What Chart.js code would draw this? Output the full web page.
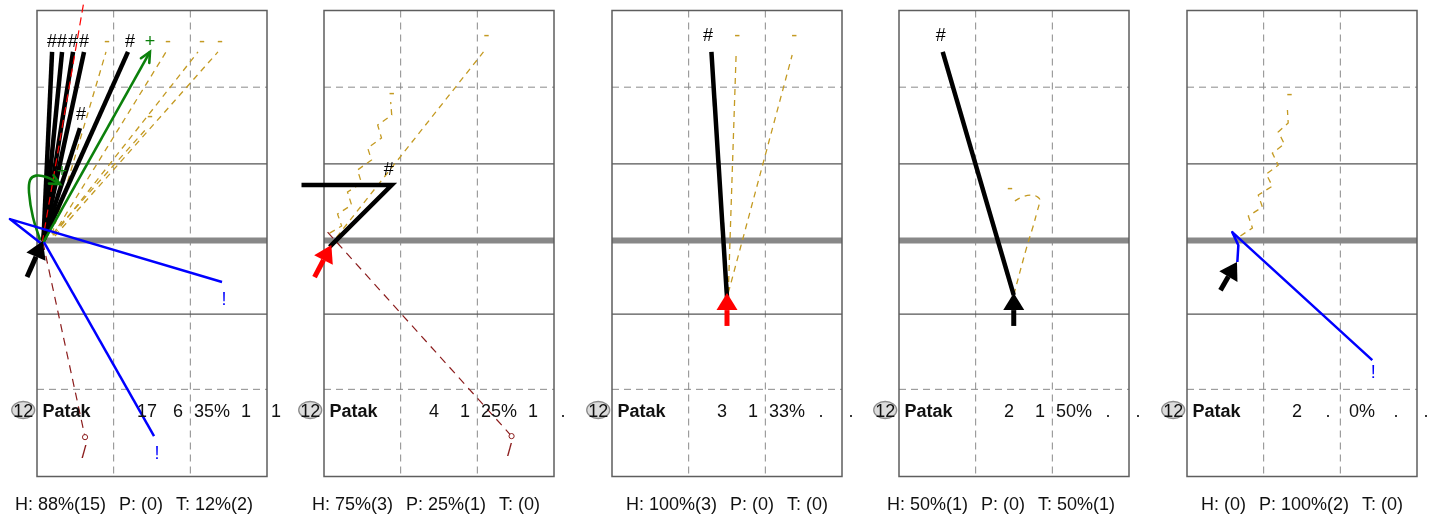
<!DOCTYPE html>
<html>
<head>
<meta charset="utf-8">
<title>Patak – attack chart</title>
<script src="https://cdn.jsdelivr.net/npm/chart.js@4.4.1/dist/chart.umd.min.js"></script>
<style>
  html, body { margin: 0; padding: 0; background: #fff; }
  #board { position: relative; width: 1447px; height: 517px; overflow: hidden; }
  .panel { position: absolute; top: 0; width: 288px; height: 517px; }
</style>
</head>
<body>
<div id="board"></div>
<script>
// Court in metres: 9 m wide, far side above the net (y > 0), near side below
const xMin = 0, xMax = 9, yMin = -9.23, yMax = 9;
const dashedX = [3, 6];
const dashedY = [6, -5.82];
const solidY = [3, -2.88];
const netY = 0;

// left edge of each court on the page
const panelLeft = [37, 324.4, 611.8, 899.2, 1186.7];

// player row + footer
const jersey = '12';
const player = 'Patak';
const rowValues = [
  ['17', '6', '35%', '1', '1'],
  ['4', '1', '25%', '1', '.'],
  ['3', '1', '33%', '.', '.'],
  ['2', '1', '50%', '.', '.'],
  ['2', '.', '0%', '.', '.']
];
const footers = [
  ['H: 88%(15)', 'P: (0)', 'T: 12%(2)'],
  ['H: 75%(3)', 'P: 25%(1)', 'T: (0)'],
  ['H: 100%(3)', 'P: (0)', 'T: (0)'],
  ['H: 50%(1)', 'P: (0)', 'T: 50%(1)'],
  ['H: (0)', 'P: 100%(2)', 'T: (0)']
];

// attacks: c = evaluation code, pts = path [x, y], lab = where the code is printed
const shots1 = [
  {c: '-', pts: [[0.59, 0.25], [2.70, 7.38]], lab: [2.74, 7.78]},
  {c: '-', pts: [[0.62, 0.20], [5.05, 7.38]], lab: [5.13, 7.78]},
  {c: '-', pts: [[0.66, 0.22], [6.30, 7.38]], lab: [6.46, 7.78]},
  {c: '-', pts: [[0.70, 0.18], [7.08, 7.38]], lab: [7.16, 7.78]},
  {c: '-', pts: [[0.62, 0.28], [4.30, 4.40]], lab: [4.42, 4.85]},
  {c: '/', pts: [[0.23, -0.06], [1.88, -7.69]], lab: [1.84, -8.31]},
  {c: '#', pts: [[0.25, 0.00], [0.59, 7.38]], lab: [0.59, 7.78]},
  {c: '#', pts: [[0.25, 0.00], [0.98, 7.38]], lab: [0.98, 7.78]},
  {c: '#', pts: [[0.25, 0.00], [1.41, 7.38]], lab: [1.41, 7.78]},
  {c: '#', pts: [[0.25, 0.00], [1.84, 7.38]], lab: [1.84, 7.78]},
  {c: '#', pts: [[0.25, 0.00], [3.56, 7.38]], lab: [3.64, 7.78]},
  {c: '#', pts: [[0.25, 0.00], [1.68, 4.40]], lab: [1.72, 4.91]},
  {c: 'x', pts: [[0.20, -0.10], [1.88, 9.61]], lab: null},
  {c: '+', pts: [[0.23, -0.10], [4.42, 7.38]], lab: [4.42, 7.78]},
  {c: '+', pts: [[0.12, 0.02], [-0.16, 0.92], [-0.31, 1.86], [-0.27, 2.37], [-0.04, 2.54], [0.39, 2.48], [0.90, 2.21]], lab: [0.98, 2.68], smooth: true},
  {c: '!', pts: [[0.20, -0.14], [-1.06, 0.84], [7.24, -1.62]], lab: [7.32, -2.33]},
  {c: '!', pts: [[0.27, -0.06], [4.58, -7.65]], lab: [4.70, -8.35]}
];
const shots2 = [
  {c: '-', pts: [[0.22, -0.21], [6.24, 7.38]], lab: [6.36, 8.0]},
  {c: '-', pts: [[0.22, 0.29], [0.69, 0.57], [0.53, 1.04], [1.08, 1.39], [0.92, 1.90], [1.47, 2.25], [1.31, 2.76],
                 [1.86, 3.15], [1.71, 3.62], [2.25, 4.01], [2.10, 4.52], [2.65, 4.91], [2.61, 5.42]], lab: [2.65, 5.73]},
  {c: '/', pts: [[0.14, 0.33], [7.34, -7.65]], lab: [7.26, -8.24]},
  {c: '#', pts: [[0.22, -0.25], [2.65, 2.17], [-0.88, 2.17]], lab: [2.53, 2.76]}
];
const shots3 = [
  {c: '-', pts: [[4.55, -2.05], [4.86, 7.38]], lab: [4.90, 8.0]},
  {c: '-', pts: [[4.55, -2.05], [7.05, 7.26]], lab: [7.13, 8.0]},
  {c: '#', pts: [[4.50, -2.21], [3.89, 7.38]], lab: [3.76, 8.0]}
];
const shots4 = [
  {c: '-', pts: [[4.49, -2.13], [5.00, -0.25], [5.24, 0.53], [5.39, 1.08], [5.51, 1.59], [5.43, 1.70],
                 [5.20, 1.78], [4.81, 1.70], [4.41, 1.47]], lab: [4.34, 2.02], smooth: true},
  {c: '#', pts: [[4.49, -2.13], [1.71, 7.38]], lab: [1.63, 8.0]}
];
const shots5 = [
  {c: '-', pts: [[2.09, 0.18], [2.56, 0.49], [2.40, 0.96], [2.95, 1.31], [2.79, 1.78], [3.34, 2.13], [3.10, 2.60],
                 [3.57, 2.95], [3.34, 3.42], [3.81, 3.78], [3.57, 4.25], [3.96, 4.60], [3.93, 5.11]], lab: [4.01, 5.69]},
  {c: '!', pts: [[1.97, -0.84], [2.01, -0.18], [1.77, 0.33], [7.25, -4.68]], lab: [7.29, -5.19]}
];
const shots = [shots1, shots2, shots3, shots4, shots5];

// set arrow: tail and the point where the head starts
const arrowTail = [[-0.39, -1.43], [-0.37, -1.43], [4.50, -3.34], [4.49, -3.34], [1.31, -1.94]];
const arrowBase = [[-0.04, -0.63], [-0.02, -0.76], [4.50, -2.72], [4.49, -2.72], [1.62, -1.41]];
const arrowKind = ['b', 'r', 'r', 'b', 'b'];

// looks
const FONT = '"Liberation Sans", Arial, Helvetica, sans-serif';
const shotStyle = {
  '#': {color: '#000000', width: 4.5},
  '-': {color: '#c49a22', width: 1.3, dash: [6, 5]},
  '+': {color: '#0b800b', width: 2.6, head: true},
  '!': {color: '#0000ff', width: 2.5},
  '/': {color: '#8b1c1c', width: 1.2, dash: [8, 6], dot: true},
  'x': {color: '#ff0000', width: 1.2, dash: [8, 5]}
};
const drawRank = ['-', '/', '#', 'x', '+', '!'];
const arrowColor = {b: '#000000', r: '#ff0000'};
const rowCols = [110, 141, 175, 209, 239];   // column centres, px from court left

Chart.defaults.font.family = FONT;

const court = {
  id: 'court',
  beforeDatasetsDraw(chart) {
    const {ctx, chartArea: a, scales: {x, y}} = chart;
    ctx.save();
    ctx.lineWidth = 1;
    ctx.strokeStyle = '#8a8a8a';
    ctx.setLineDash([7, 5]);
    dashedX.forEach(v => {
      const px = x.getPixelForValue(v);
      ctx.beginPath(); ctx.moveTo(px, a.top); ctx.lineTo(px, a.bottom); ctx.stroke();
    });
    dashedY.forEach(v => {
      const py = y.getPixelForValue(v);
      ctx.beginPath(); ctx.moveTo(a.left, py); ctx.lineTo(a.right, py); ctx.stroke();
    });
    ctx.setLineDash([]);
    ctx.strokeStyle = '#555';
    ctx.lineWidth = 1.3;
    solidY.forEach(v => {
      const py = y.getPixelForValue(v);
      ctx.beginPath(); ctx.moveTo(a.left, py); ctx.lineTo(a.right, py); ctx.stroke();
    });
    // net
    const ny = y.getPixelForValue(netY);
    ctx.strokeStyle = '#888';
    ctx.lineWidth = 6;
    ctx.beginPath(); ctx.moveTo(a.left, ny); ctx.lineTo(a.right, ny); ctx.stroke();
    ctx.strokeStyle = '#5e5e5e';
    ctx.lineWidth = 1.5;
    ctx.strokeRect(a.left, a.top, a.width, a.height);
    ctx.restore();
  },
  afterDatasetsDraw(chart, args, opts) {
    const {ctx, chartArea: a, scales: {x, y}} = chart;
    ctx.save();
    chart.data.datasets.forEach((ds, i) => {
      const pts = chart.getDatasetMeta(i).data;
      const n = pts.length;
      if (ds.openHead) {
        const p = pts[n - 1], q = pts[n - 2];
        const ang = Math.atan2(p.y - q.y, p.x - q.x);
        ctx.strokeStyle = ds.borderColor;
        ctx.lineWidth = ds.borderWidth;
        ctx.lineCap = 'round';
        ctx.beginPath();
        ctx.moveTo(p.x - 11 * Math.cos(ang - 0.45), p.y - 11 * Math.sin(ang - 0.45));
        ctx.lineTo(p.x, p.y);
        ctx.lineTo(p.x - 11 * Math.cos(ang + 0.45), p.y - 11 * Math.sin(ang + 0.45));
        ctx.stroke();
      }
      if (ds.solidHead) {
        const t = pts[0], b = pts[1];
        const len = Math.hypot(b.x - t.x, b.y - t.y);
        const ux = (b.x - t.x) / len, uy = (b.y - t.y) / len;
        ctx.fillStyle = ds.borderColor;
        ctx.beginPath();
        ctx.moveTo(b.x + ux * 17, b.y + uy * 17);
        ctx.lineTo(b.x - uy * 10.5, b.y + ux * 10.5);
        ctx.lineTo(b.x + uy * 10.5, b.y - ux * 10.5);
        ctx.closePath();
        ctx.fill();
      }
      if (ds.tag) {
        ctx.fillStyle = ds.borderColor;
        ctx.font = `18px ${FONT}`;
        ctx.textAlign = 'center';
        ctx.textBaseline = 'middle';
        ctx.fillText(ds.tag, x.getPixelForValue(ds.tagAt[0]), y.getPixelForValue(ds.tagAt[1]));
      }
    });

    // player row
    const base = a.top + 406.5;
    ctx.textBaseline = 'alphabetic';
    ctx.beginPath();
    ctx.ellipse(a.left - 13.8, base - 7, 11.5, 8.5, 0, 0, Math.PI * 2);
    ctx.fillStyle = '#dcdcdc';
    ctx.fill();
    ctx.strokeStyle = '#8c8c8c';
    ctx.lineWidth = 1.3;
    ctx.stroke();
    ctx.fillStyle = '#111';
    ctx.textAlign = 'center';
    ctx.font = `18px ${FONT}`;
    ctx.fillText(jersey, a.left - 13.8, base);
    ctx.textAlign = 'left';
    ctx.font = `bold 18px ${FONT}`;
    ctx.fillText(player, a.left + 5.5, base);
    ctx.font = `18px ${FONT}`;
    ctx.textAlign = 'center';
    rowValues[opts.panel].forEach((v, k) => ctx.fillText(v, a.left + rowCols[k], base));

    // footer, right aligned under the court
    const parts = footers[opts.panel];
    const gap = 13;
    const widths = parts.map(s => ctx.measureText(s).width);
    let fx = a.right - 14 - widths.reduce((s, w) => s + w, 0) - gap * (parts.length - 1);
    ctx.textAlign = 'left';
    parts.forEach((s, k) => { ctx.fillText(s, fx, a.top + 499.5); fx += widths[k] + gap; });
    ctx.restore();
  }
};

const board = document.getElementById('board');

shots.forEach((list, p) => {
  const box = document.createElement('div');
  box.className = 'panel';
  box.style.left = (panelLeft[p] - 37) + 'px';
  const cv = document.createElement('canvas');
  box.appendChild(cv);
  board.appendChild(box);

  const datasets = list.map((s, i) => {
    const st = shotStyle[s.c];
    const n = s.pts.length;
    return {
      data: s.pts.map(q => ({x: q[0], y: q[1]})),
      showLine: true,
      borderColor: st.color,
      borderWidth: st.width,
      borderDash: st.dash || [],
      borderJoinStyle: s.c === '!' ? 'round' : 'miter',
      tension: s.smooth ? 0.4 : 0,
      capBezierPoints: false,
      pointRadius: st.dot ? (c => c.dataIndex === n - 1 ? 2.6 : 0) : 0,
      pointHoverRadius: 0,
      pointBackgroundColor: '#fff',
      pointBorderColor: st.color,
      pointBorderWidth: 1,
      clip: false,
      order: -(drawRank.indexOf(s.c) * 100 + i),
      openHead: !!st.head,
      tag: s.lab ? s.c : '',
      tagAt: s.lab
    };
  });
  datasets.push({
    data: [arrowTail[p], arrowBase[p]].map(q => ({x: q[0], y: q[1]})),
    showLine: true,
    borderColor: arrowColor[arrowKind[p]],
    borderWidth: 5,
    pointRadius: 0,
    pointHoverRadius: 0,
    clip: false,
    order: -1000,
    solidHead: true
  });

  new Chart(cv, {
    type: 'scatter',
    data: {datasets},
    options: {
      responsive: true,
      maintainAspectRatio: false,
      animation: false,
      events: [],
      layout: {padding: {left: 37, right: 21, top: 10.5, bottom: 40.5}},
      scales: {
        x: {type: 'linear', min: xMin, max: xMax, display: false},
        y: {type: 'linear', min: yMin, max: yMax, display: false}
      },
      plugins: {
        legend: {display: false},
        tooltip: {enabled: false},
        court: {panel: p}
      }
    },
    plugins: [court]
  });
});
</script>
</body>
</html>
